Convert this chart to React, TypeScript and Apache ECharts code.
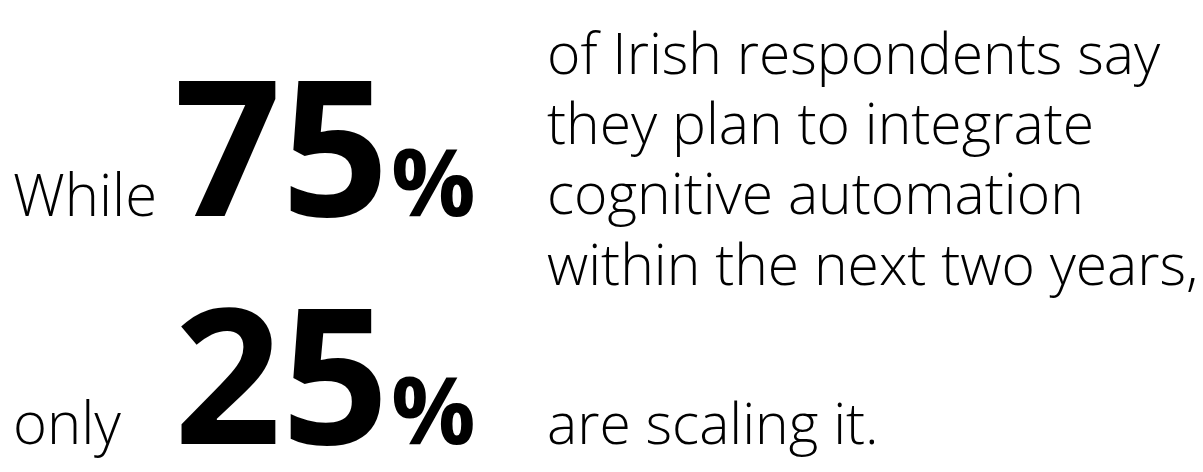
import React, { useEffect, useRef } from "react";
import * as echarts from "echarts";

const bigValues = [75, 25];
const leadWords = ["While", "only"];
const statementLines = [
  ["of Irish respondents say", "they plan to integrate", "cognitive automation", "within the next two years,"],
  ["are scaling it."],
];

const FONT = '"Open Sans", "Noto Sans", sans-serif';
const CENTRAL = 0.388; // Open Sans: central baseline above alphabetic, in em

function txt(x: number, baseline: number, text: string, size: number, weight: number, lineHeight: number) {
  return {
    type: "text",
    x,
    y: baseline - CENTRAL * size,
    style: {
      text,
      font: `${weight} ${size}px ${FONT}`,
      fill: "#000",
      verticalAlign: "middle",
      align: "left",
      lineHeight,
    },
  };
}

export default function App() {
  const ref = useRef<HTMLDivElement>(null);
  useEffect(() => {
    document.body.style.margin = "0";
    const chart = echarts.init(ref.current!, null, { renderer: "svg" });
    const rowBaselines = [216, 444];
    const elements: any[] = [];
    bigValues.forEach((v, i) => {
      const b = rowBaselines[i];
      elements.push(txt(13, b, leadWords[i], 58, 300, 60));
      elements.push(txt(174, b, String(v), 188, 700, 144));
      elements.push(txt(391, b, "%", 94, 700, 72));
    });
    const lineBase = [74, 144, 214, 285];
    statementLines[0].forEach((t, j) => {
      elements.push(txt(547, lineBase[j], t, 57, 300, 64));
    });
    elements.push(txt(547, 444, statementLines[1][0], 57, 300, 64));
    chart.setOption({ animation: false, backgroundColor: "#fff", graphic: { elements } });
    return () => chart.dispose();
  }, []);
  return <div ref={ref} style={{ width: 1203, height: 472 }} />;
}
